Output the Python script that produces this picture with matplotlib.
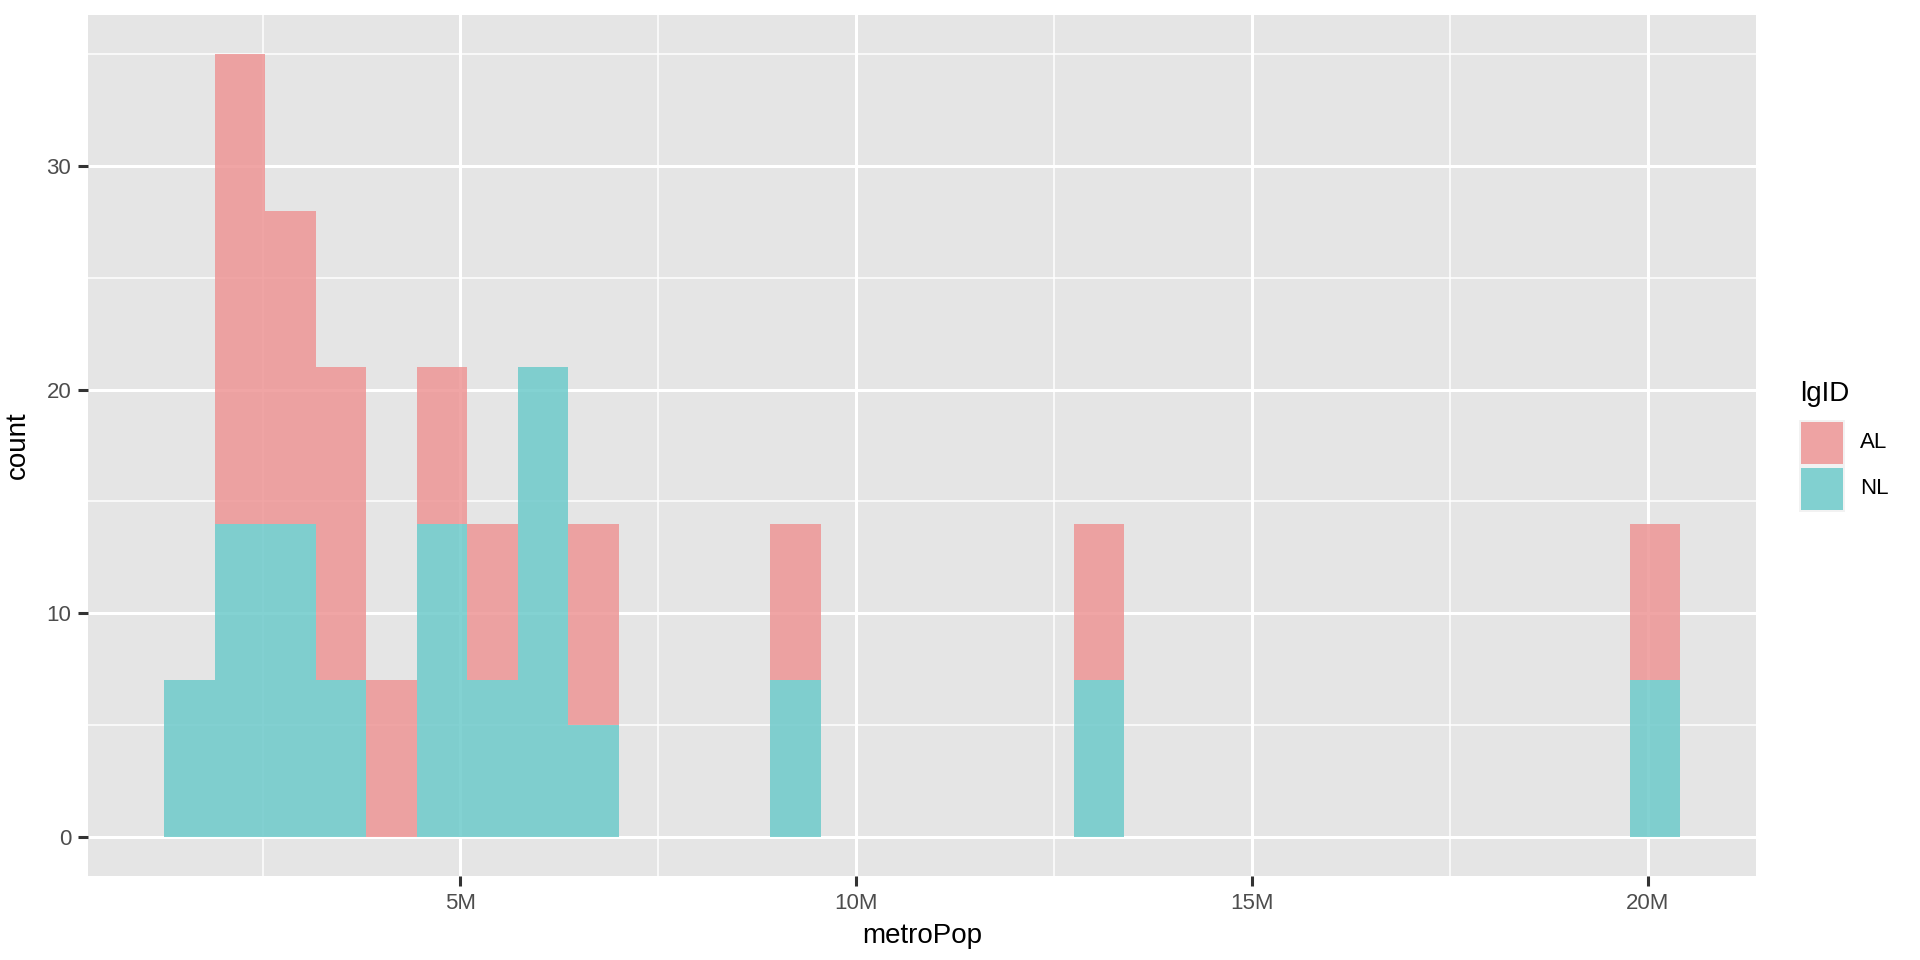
import numpy as np
import matplotlib.pyplot as plt
from matplotlib.patches import Rectangle
from matplotlib.ticker import FuncFormatter, MultipleLocator

plt.rcParams['font.family'] = ['Liberation Sans', 'DejaVu Sans']

# histogram bins (metroPop in millions), 30 bins
bin_start = 1.254
bin_width = 0.6385
n_bins = 30

# counts per bin, stacked: NL on the bottom, AL on top
nl_counts = [7, 14, 14, 7, 0, 14, 7, 21, 5, 0, 0, 0, 7, 0, 0,
             0, 0, 0, 7, 0, 0, 0, 0, 0, 0, 0, 0, 0, 0, 7]
al_counts = [0, 21, 14, 14, 7, 7, 7, 0, 9, 0, 0, 0, 7, 0, 0,
             0, 0, 0, 7, 0, 0, 0, 0, 0, 0, 0, 0, 0, 0, 7]

groups = ['AL', 'NL']
x_ticks = [5, 10, 15, 20]
y_ticks = [0, 10, 20, 30]

bg = '#E5E5E5'
al_col = '#EE9696'
nl_col = '#6DCACB'
alpha = 0.85

fig = plt.figure(figsize=(19.2, 9.6), dpi=100)
ax = fig.add_axes([88 / 1920, 1 - 876 / 960, (1756 - 88) / 1920, (876 - 15) / 960])
ax.set_facecolor(bg)

lefts = bin_start + bin_width * np.arange(n_bins)
nl = np.array(nl_counts)
al = np.array(al_counts)
ax.bar(lefts, nl, width=bin_width, align='edge', color=nl_col, alpha=alpha,
       linewidth=0, zorder=3)
ax.bar(lefts, al, bottom=nl, width=bin_width, align='edge', color=al_col,
       alpha=alpha, linewidth=0, zorder=3)

ax.set_xlim(0.294, 21.368)
ax.set_ylim(-1.75, 36.75)

ax.set_xticks(x_ticks)
ax.xaxis.set_major_formatter(FuncFormatter(lambda v, p: f'{int(v)}M'))
ax.xaxis.set_minor_locator(MultipleLocator(2.5))
ax.set_yticks(y_ticks)
ax.yaxis.set_minor_locator(MultipleLocator(5))

ax.grid(which='major', color='white', linewidth=2.2, zorder=1)
ax.grid(which='minor', color='white', linewidth=1.1, zorder=1)
ax.set_axisbelow(True)
for s in ax.spines.values():
    s.set_visible(False)

ax.tick_params(which='major', length=7, width=2.2, color='#333333',
               labelsize=16, labelcolor='#4D4D4D', pad=5)
ax.tick_params(which='minor', length=0)

ax.set_xlabel('metroPop', fontsize=20, color='black', labelpad=7)
ax.set_ylabel('count', fontsize=20, color='black', labelpad=11)

# legend drawn by hand to match ggplot guide
fig.text(1800 / 1920, 1 - 394 / 960, 'lgID', fontsize=20, va='center', ha='left')
key_cols = [al_col, nl_col]
key_tops = [420, 466]
for g, c, t in zip(groups, key_cols, key_tops):
    fig.patches.append(Rectangle((1799 / 1920, 1 - (t + 46) / 960), 46 / 1920, 46 / 960,
                                 transform=fig.transFigure, facecolor='#F2F2F2',
                                 edgecolor='none'))
    fig.patches.append(Rectangle((1801 / 1920, 1 - (t + 44) / 960), 42 / 1920, 42 / 960,
                                 transform=fig.transFigure, facecolor=c, alpha=alpha,
                                 edgecolor='none'))
    fig.text(1860 / 1920, 1 - (t + 23) / 960, g, fontsize=16, va='center', ha='left')

fig.savefig('out.png', dpi=100)
